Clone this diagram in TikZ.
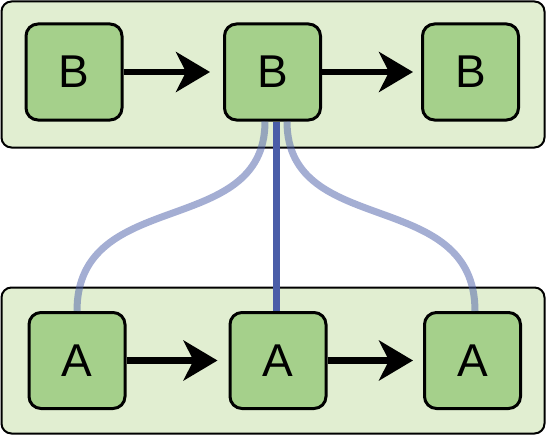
\documentclass[tikz,border=0pt]{standalone}
\usepackage{fontspec}
\setmainfont{Liberation Sans}
\usetikzlibrary{arrows.meta}
\definecolor{contfill}{HTML}{E1EED1}
\definecolor{boxfill}{HTML}{A5D08B}
\definecolor{linkblue}{HTML}{4A5DA8}
\tikzset{
  container/.style={draw=black, line width=2pt, fill=contfill, rounded corners=10pt, inner sep=0pt},
  elem/.style={draw=black, line width=3pt, fill=boxfill, rounded corners=12pt,
    minimum width=96pt, minimum height=96pt, inner sep=0pt,
    font=\fontsize{46pt}{50pt}\selectfont},
  flow/.style={line width=6.5pt, -{Stealth[length=34pt, width=40pt, inset=10pt]}},
  mainlink/.style={line width=7pt, draw=linkblue},
  sidelink/.style={line width=7pt, draw=linkblue, draw opacity=0.5}
}
\begin{document}
\begin{tikzpicture}[x=1pt, y=-1pt]
\useasboundingbox (0,0) rectangle (546,436);
\node[container, minimum width=543pt, minimum height=146pt] (topc) at (273,74.5) {};
\node[container, minimum width=543pt, minimum height=146pt] (botc) at (273,360.5) {};
\node[elem] (B1) at (74,72) {B};
\node[elem] (B2) at (272.5,72) {B};
\node[elem] (B3) at (470.5,72) {B};
\node[elem] (A1) at (77,360.5) {A};
\node[elem] (A2) at (278,360.5) {A};
\node[elem] (A3) at (472.5,360.5) {A};
\draw[sidelink] ([xshift=-7.5pt]B2.south) .. controls +(0,118) and +(0,-125) .. (A1.north);
\draw[sidelink] ([xshift=14.5pt]B2.south) .. controls +(0,118) and +(0,-125) .. ([xshift=2.5pt]A3.north);
\draw[mainlink] ([xshift=3.5pt]B2.south) -- ([xshift=3.5pt]B2.south |- A2.north);
\draw[flow] (B1.east) -- ([xshift=-13pt]B2.west);
\draw[flow] (B2.east) -- ([xshift=-8pt]B3.west);
\draw[flow] (A1.east) -- ([xshift=-11pt]A2.west);
\draw[flow] (A2.east) -- ([xshift=-10pt]A3.west);
\end{tikzpicture}
\end{document}
